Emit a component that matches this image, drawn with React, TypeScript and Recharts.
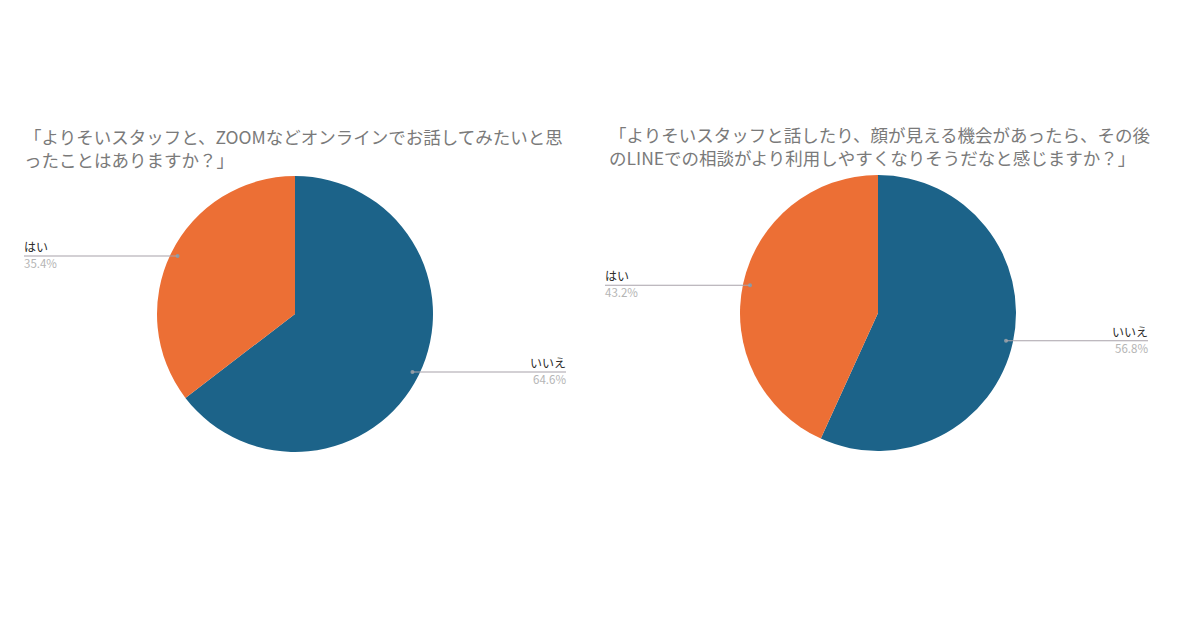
import React from "react";
import { PieChart, Pie, Cell } from "recharts";

const categories = ["いいえ", "はい"];
const leftValues = [64.6, 35.4];
const rightValues = [56.8, 43.2];
const colors = ["#1c6389", "#ec6f35"];
const leftTitle = ["「よりそいスタッフと、ZOOMなどオンラインでお話してみたいと思", "ったことはありますか？」"];
const rightTitle = ["「よりそいスタッフと話したり、顔が見える機会があったら、その後", "のLINEでの相談がより利用しやすくなりそうだなと感じますか？」"];

const leftData = categories.map((name, i) => ({ name, value: leftValues[i] }));
const rightData = categories.map((name, i) => ({ name, value: rightValues[i] }));

const RAD = Math.PI / 180;
const font = "'Noto Sans CJK JP', 'Noto Sans', sans-serif";

function makeLabel(xLeft: number, xRight: number) {
  return (props: any) => {
    const { cx, cy, midAngle, outerRadius, name, value } = props;
    const r = outerRadius - 7;
    const px = cx + r * Math.cos(-midAngle * RAD);
    const py = cy + r * Math.sin(-midAngle * RAD);
    const onRight = px > cx;
    const ex = onRight ? xRight : xLeft;
    const anchor = onRight ? "end" : "start";
    return (
      <g>
        <circle cx={px} cy={py} r={2} fill="#8a9aa5" />
        <line x1={px} y1={py} x2={ex} y2={py} stroke="#a8a2aa" strokeWidth={1.2} />
        <text x={ex} y={py - 4} textAnchor={anchor} fontSize={12} fill="#2a2a2a" fontFamily={font}>
          {name}
        </text>
        <text x={ex} y={py + 12} textAnchor={anchor} fontSize={11.5} fill="#b5b5b5" fontFamily={font}>
          {Number(value).toFixed(1)}%
        </text>
      </g>
    );
  };
}

const titleStyle = (left: number, top: number): React.CSSProperties => ({
  position: "absolute",
  left,
  top,
  fontFamily: font,
  fontSize: 17.5,
  lineHeight: "23px",
  color: "#7a7a7a",
  whiteSpace: "nowrap",
});

export default function App() {
  return (
    <div style={{ position: "absolute", left: 0, top: 0, width: 1200, height: 630, background: "#fff" }}>
      <PieChart width={1200} height={630} margin={{ top: 0, right: 0, bottom: 0, left: 0 }}>
        <Pie
          data={leftData}
          dataKey="value"
          nameKey="name"
          cx={295}
          cy={314}
          outerRadius={138}
          startAngle={90}
          endAngle={-270}
          stroke="none"
          labelLine={false}
          label={makeLabel(24, 566)}
          isAnimationActive={false}
        >
          {leftData.map((d, i) => (
            <Cell key={d.name} fill={colors[i]} />
          ))}
        </Pie>
        <Pie
          data={rightData}
          dataKey="value"
          nameKey="name"
          cx={878}
          cy={313}
          outerRadius={138}
          startAngle={90}
          endAngle={-270}
          stroke="none"
          labelLine={false}
          label={makeLabel(605, 1148)}
          isAnimationActive={false}
        >
          {rightData.map((d, i) => (
            <Cell key={d.name} fill={colors[i]} />
          ))}
        </Pie>
      </PieChart>
      <div style={titleStyle(24, 125)}>
        {leftTitle[0]}
        <br />
        {leftTitle[1]}
      </div>
      <div style={titleStyle(609, 123)}>
        {rightTitle[0]}
        <br />
        {rightTitle[1]}
      </div>
    </div>
  );
}
